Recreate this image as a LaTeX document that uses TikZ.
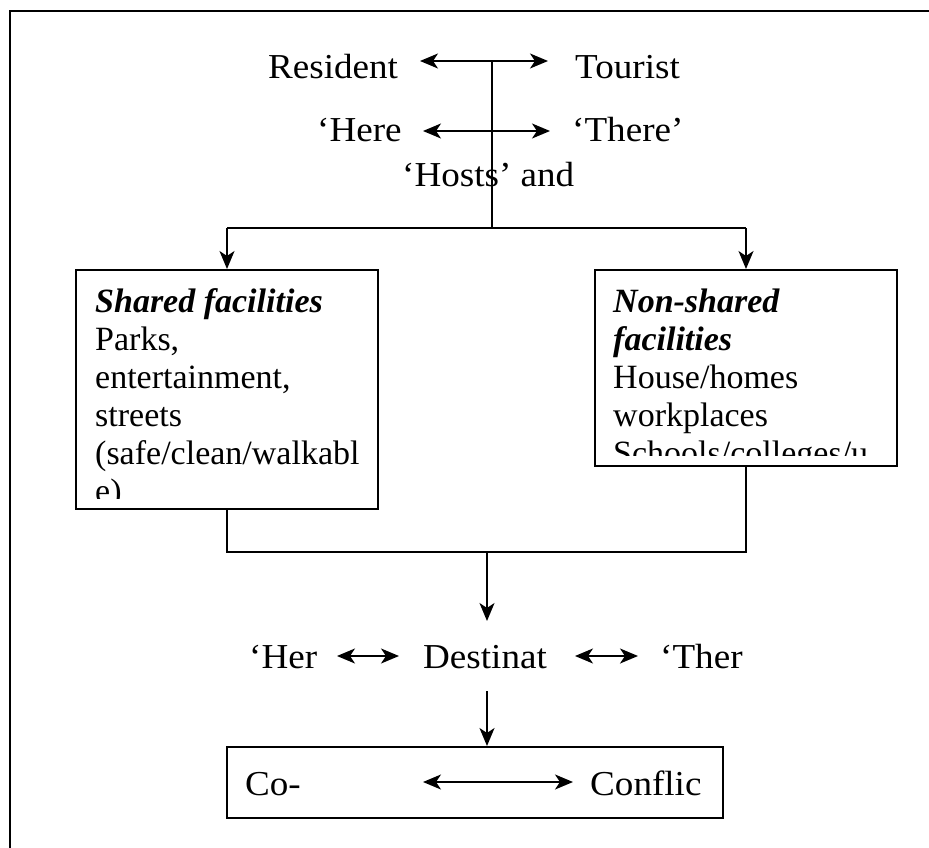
\documentclass[tikz,border=0pt]{standalone}
\usepackage{fontspec}
\setmainfont{Liberation Serif}[FakeStretch=1.06]
\newfontfamily\boxfont{Liberation Serif}
\usetikzlibrary{arrows.meta}
\begin{document}
\begin{tikzpicture}[x=1pt,y=-1pt,
  lbl/.style={anchor=base west, inner sep=0pt, font=\fontsize{35}{38}\selectfont},
  boxtxt/.style={anchor=base west, inner sep=0pt, font=\boxfont\fontsize{34}{38}\selectfont},
  boxn/.style={draw, line width=2pt, inner sep=0pt},
  conn/.style={line width=2pt},
  arr/.style={conn, -{Stealth[length=18pt,width=15pt,inset=5pt]}},
  dbl/.style={conn, {Stealth[length=18pt,width=15pt,inset=5pt]}-{Stealth[length=18pt,width=15pt,inset=5pt]}},
]
\useasboundingbox (0,0) rectangle (929,848);
\draw[line width=2.2pt] (10,848) -- (10,11) -- (929,11);

% top labels
\node[lbl] (res) at (268,79) {Resident};
\node[lbl] (tou) at (575,79) {Tourist};
\node[lbl] (here) at (317,142) {`Here};
\node[lbl] (there) at (572,142) {`There'};
\node[lbl] (hosts) at (402,186) {`Hosts' and};

\coordinate (a1l) at (420,61);
\coordinate (a1r) at (548,61);
\coordinate (a2l) at (423,131);
\coordinate (a2r) at (550,131);
\coordinate (jt) at (492,61);
\coordinate (jb) at (492,228);
\coordinate (hl) at (227,228);
\coordinate (hr) at (746,228);

\draw[dbl] (a1l) -- (a1r);
\draw[dbl] (a2l) -- (a2r);
\draw[conn] (jt) -- (jb);

% boxes
\node[boxn, minimum width=302pt, minimum height=239pt] (shared) at (227,389.5) {};
\node[boxn, minimum width=302pt, minimum height=196pt] (nonsh) at (746,368) {};

\draw[conn] (hl) -- (hr);
\draw[arr] (hl) -- (shared.north);
\draw[arr] (hr) -- (nonsh.north);

\begin{scope}
\clip (78,272) rectangle (376,498);
\node[boxtxt] (sharedtxt) at (95,312) {\parbox[t]{400pt}{\textbf{\textit{Shared facilities}}\\Parks,\\entertainment,\\streets\\(safe/clean/walkabl\\e)}};
\end{scope}
\begin{scope}
\clip (597,272) rectangle (895,455);
\node[boxtxt] (nonshtxt) at (613,312) {\parbox[t]{400pt}{\textbf{\textit{Non-shared}}\\\textbf{\textit{facilities}}\\House/homes\\workplaces\\Schools/colleges/u}};
\end{scope}

% merge
\coordinate (bl) at (227,552);
\coordinate (br) at (746,552);
\coordinate (bm) at (487,552);
\coordinate (dtop) at (487,621);
\draw[conn] (shared.south) -- (bl) -- (br) -- (nonsh.south);
\draw[arr] (bm) -- (dtop);

% middle row
\node[lbl] (her) at (249,668) {`Her};
\node[lbl] (dest) at (423,668) {Destinat};
\node[lbl] (ther) at (660,668) {`Ther};
\coordinate (m1l) at (337,656);
\coordinate (m1r) at (399,656);
\coordinate (m2l) at (575,656);
\coordinate (m2r) at (638,656);
\draw[dbl] (m1l) -- (m1r);
\draw[dbl] (m2l) -- (m2r);

% bottom box
\node[boxn, minimum width=496pt, minimum height=71pt] (cobox) at (475,782.5) {};
\coordinate (dbot) at (487,691);
\draw[arr] (dbot) -- (dbot |- cobox.north);
\node[lbl] (co) at (245,795) {Co-};
\node[lbl] (conf) at (590,795) {Conflic};
\coordinate (c1l) at (423,782);
\coordinate (c1r) at (573,782);
\draw[dbl] (c1l) -- (c1r);
\end{tikzpicture}
\end{document}
